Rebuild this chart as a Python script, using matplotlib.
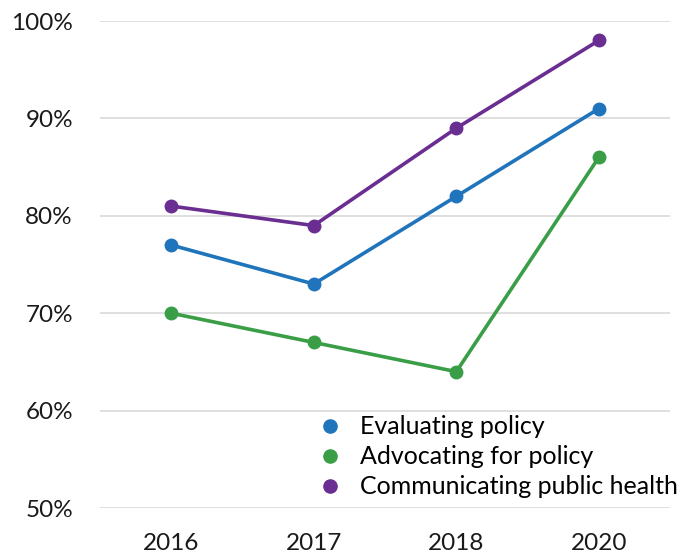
import matplotlib
matplotlib.use("Agg")
import matplotlib.pyplot as plt
from matplotlib.lines import Line2D

years = ["2016", "2017", "2018", "2020"]
evaluating = [77, 73, 82, 91]
advocating = [70, 67, 64, 86]
communicating = [81, 79, 89, 98]
series_names = ["Evaluating policy", "Advocating for policy", "Communicating public health"]
colors = ["#1f74bb", "#3a9e47", "#6a2d91"]
yticks = [50, 60, 70, 80, 90, 100]

plt.rcParams["font.family"] = ["Lato", "DejaVu Sans"]

fig = plt.figure(figsize=(6.98, 5.59), dpi=100)
ax = fig.add_axes([0.1433, 0.0912, 0.8167, 0.8712])

x = range(len(years))
for vals, c in zip([evaluating, advocating, communicating], colors):
    ax.plot(x, vals, "-o", color=c, lw=2.6, ms=9, zorder=3)

ax.set_xlim(-0.5, 3.5)
ax.set_ylim(50, 100)
ax.set_yticks(yticks)
ax.set_yticklabels([f"{v}%" for v in yticks])
ax.set_xticks(list(x))
ax.set_xticklabels(years)
ax.tick_params(axis="both", length=0, labelsize=17.5, colors="#1a1a1a")
ax.tick_params(axis="y", pad=19.5)
ax.tick_params(axis="x", pad=18)
ax.grid(axis="y", color="#d9d9d9", lw=1.2)
ax.set_axisbelow(True)
for s in ax.spines.values():
    s.set_visible(False)

handles = [Line2D([], [], marker="o", ls="none", color=c, ms=9.5) for c in colors]
fig.legend(handles, series_names, loc="upper left", bbox_to_anchor=(0.458, 0.257),
           frameon=False, fontsize=18, handlelength=0.8, handletextpad=0.8,
           labelspacing=0.28, borderaxespad=0, borderpad=0)

fig.savefig("out.png", dpi=100)
